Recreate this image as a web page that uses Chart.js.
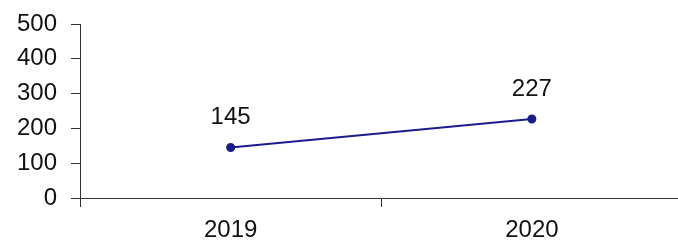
<!DOCTYPE html>
<html lang="en">
<head>
  <meta charset="UTF-8">
  <title>2019 - 2020</title>
  <script src="https://cdn.jsdelivr.net/npm/chart.js"></script>
  <style>
    html, body {
      margin: 0;
      padding: 0;
      background: #fff;
      overflow: hidden;
    }
    #wrap {
      width: 678px;
      height: 242px;
      overflow: hidden;
    }
  </style>
</head>
<body>
  <!-- el lienzo es algo más ancho que la ventana: el eje x sigue más allá del borde derecho -->
  <div id="wrap"><canvas id="grafico" width="688" height="242"></canvas></div>

  <script>
    const years = ['2019', '2020'];
    const values = [145, 227];
    const yTicks = [0, 100, 200, 300, 400, 500];

    const lineColor = '#1c1c8c';
    const axisColor = '#333333';
    const fontSpec = { family: '"Liberation Sans", Arial, sans-serif', size: 24 };

    // etiquetas encima de cada punto
    const valueLabels = {
      id: 'valueLabels',
      afterDatasetsDraw(chart) {
        const ctx = chart.ctx;
        const meta = chart.getDatasetMeta(0);
        ctx.save();
        ctx.font = fontSpec.size + 'px ' + fontSpec.family;
        ctx.fillStyle = '#111';
        ctx.textAlign = 'center';
        ctx.textBaseline = 'middle';
        meta.data.forEach((pt, i) => {
          ctx.fillText(String(values[i]), pt.x, pt.y - 30);
        });
        ctx.restore();
      }
    };

    new Chart(document.getElementById('grafico'), {
      type: 'line',
      data: {
        labels: years,
        datasets: [{
          data: values,
          borderColor: lineColor,
          backgroundColor: lineColor,
          borderWidth: 2,
          pointRadius: 3.5,
          pointHoverRadius: 3.5,
          tension: 0,
          fill: false
        }]
      },
      options: {
        responsive: false,
        animation: false,
        layout: { padding: { top: 24, right: 0, left: 0, bottom: 0 } },
        plugins: {
          legend: { display: false },
          tooltip: { enabled: false }
        },
        scales: {
          x: {
            offset: true,
            grid: {
              offset: true,
              drawOnChartArea: false,
              drawTicks: true,
              tickLength: 9,
              // la última marca (borde derecho) no se ve en el original
              color: (c) => (c.index >= years.length ? 'rgba(0,0,0,0)' : axisColor),
              lineWidth: 1
            },
            border: { color: axisColor, width: 1 },
            ticks: { color: '#111', font: fontSpec, padding: 9, maxRotation: 0 },
            afterFit(scale) {
              scale.height = 44;
            }
          },
          y: {
            min: 0,
            max: 500,
            afterBuildTicks(scale) {
              scale.ticks = yTicks.map(v => ({ value: v }));
            },
            grid: {
              drawOnChartArea: false,
              drawTicks: true,
              tickLength: 9,
              color: axisColor,
              lineWidth: 1
            },
            border: { color: axisColor, width: 1 },
            ticks: { color: '#111', font: fontSpec, padding: 14 },
            afterFit(scale) {
              scale.width = 80;
              scale.paddingTop = 0;
              scale.paddingBottom = 0;
            }
          }
        }
      },
      plugins: [valueLabels]
    });
  </script>
</body>
</html>
